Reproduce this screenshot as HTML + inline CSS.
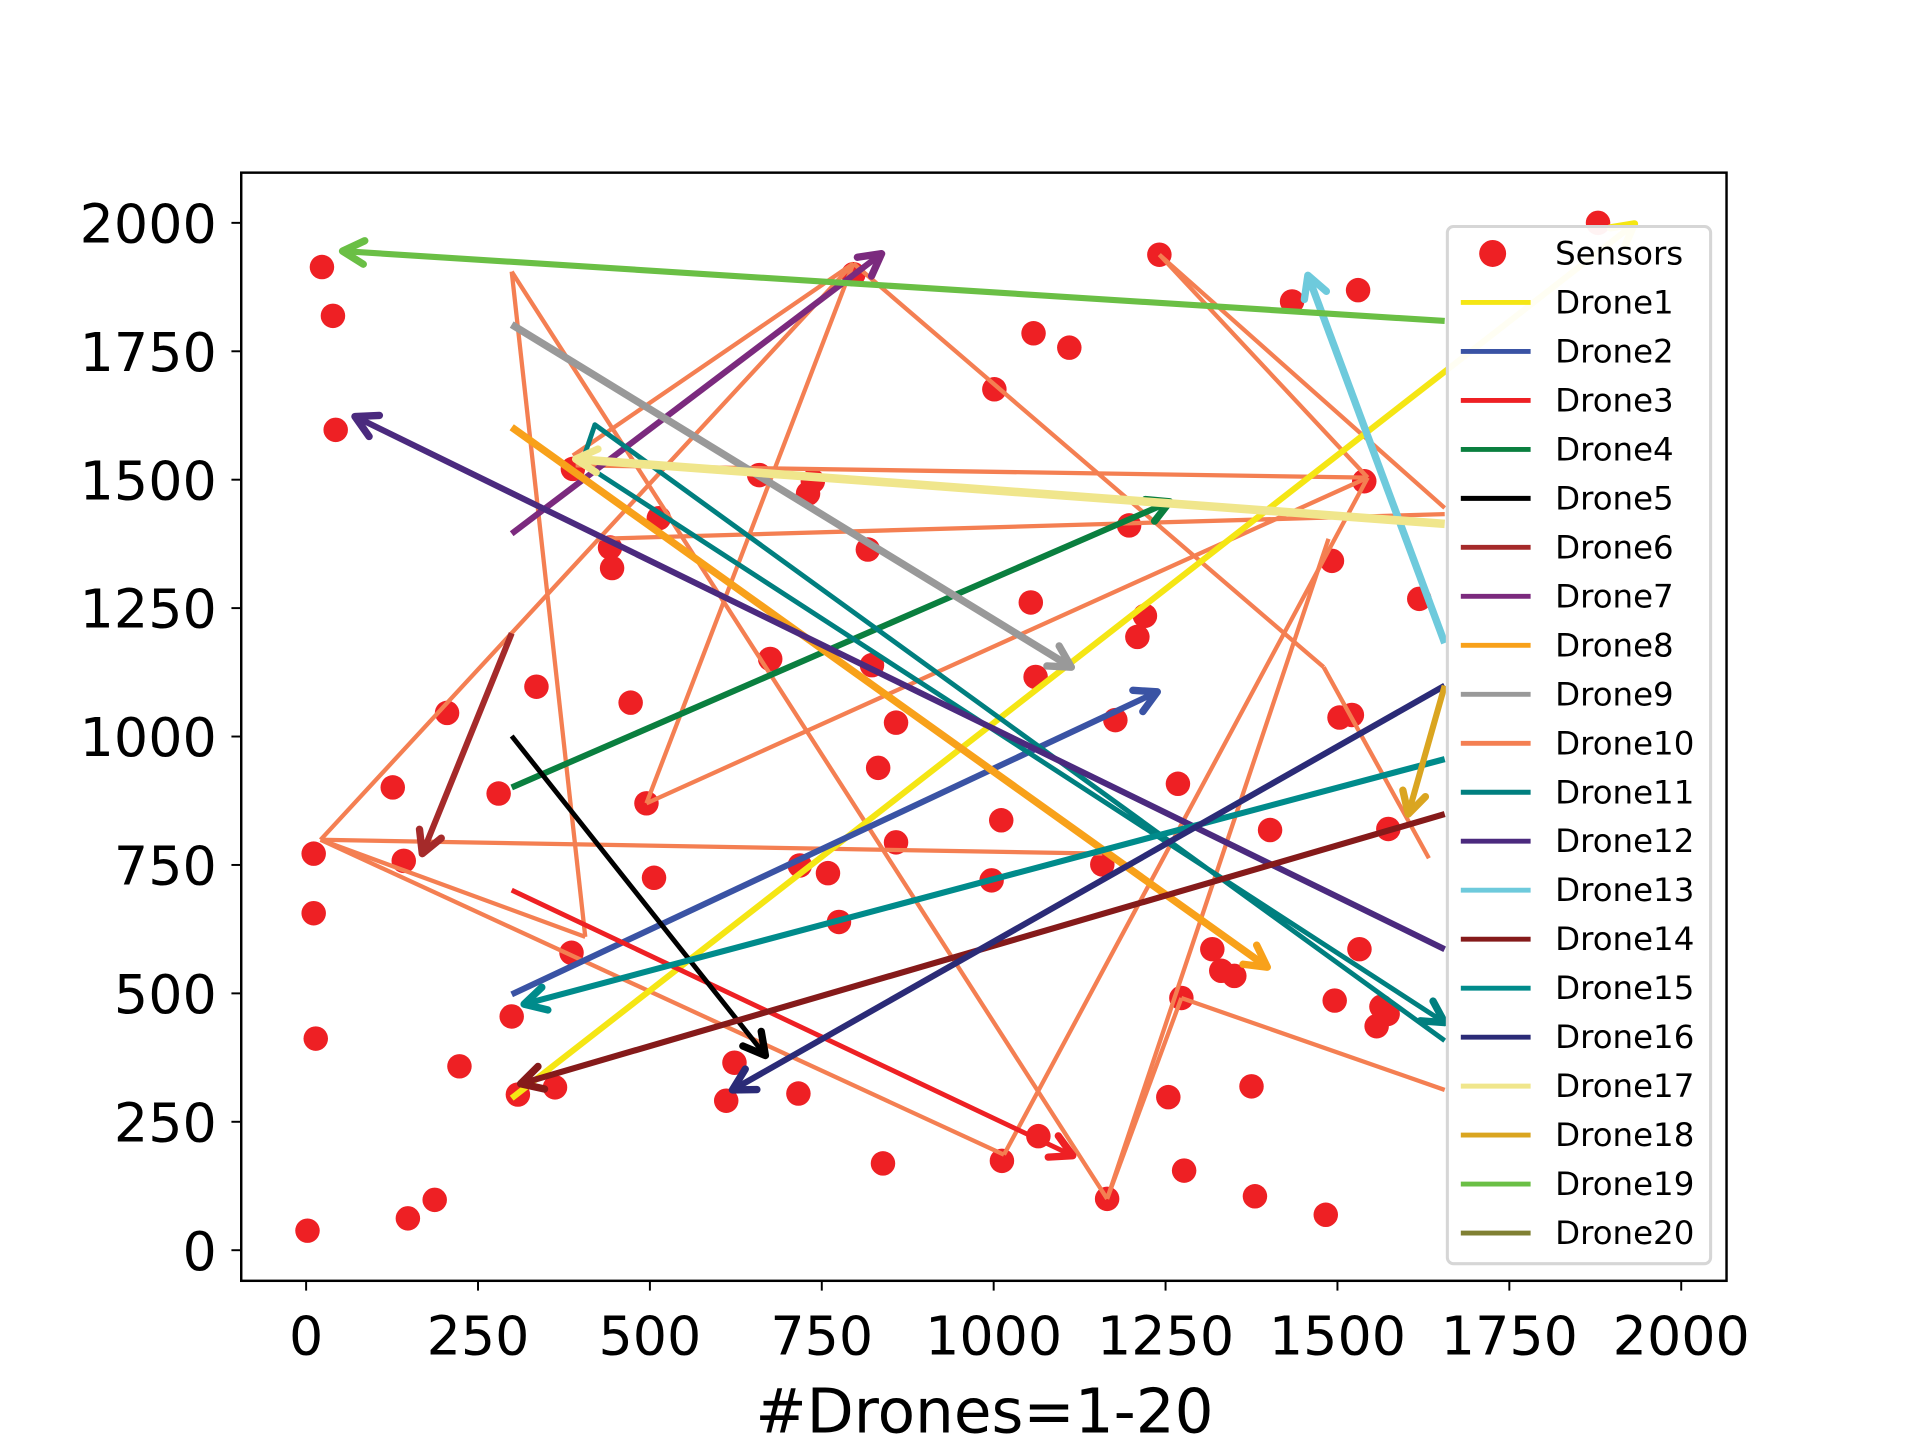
<!DOCTYPE html>
<html><head><meta charset="utf-8"><style>
html,body{margin:0;padding:0;background:#fff;width:1920px;height:1440px;overflow:hidden}
svg{display:block}
text{font-family:"DejaVu Sans","Liberation Sans",sans-serif;fill:#000}
</style></head><body>
<svg id="chart" width="1920" height="1440" viewBox="0 0 1568 1176" xmlns="http://www.w3.org/2000/svg">
<g id="plot"></g>
<g id="axes"></g>
<g id="legend"></g>
</svg>
<script>
const xTicks=[0,250,500,750,1000,1250,1500,1750,2000];
const yTicks=[0,250,500,750,1000,1250,1500,1750,2000];
const sensorX=[1879,23,39,43,1241,1434,1530,1058,1110,1001,796,388,659,737,730,1539,513,1197,442,445,817,1492,1054,1619,1220,1209,675,823,1061,205,335,472,1177,1503,1521,858,495,832,1268,126,280,1011,1402,1574,11,142,858,718,759,506,997,1158,11,775,1318,1532,1331,1350,1496,1564,1573,1557,1273,14,386,299,623,223,308,362,611,716,1254,1375,1065,1012,839,1277,1165,1380,1483,187,148,2];
const sensorY=[2000,1914,1819,1597,1938,1847,1869,1785,1757,1676,1900,1521,1509,1497,1473,1497,1425,1411,1368,1328,1364,1342,1261,1268,1235,1194,1151,1139,1116,1046,1097,1066,1032,1037,1042,1027,870,939,908,901,889,837,818,820,772,758,794,749,734,725,720,751,656,639,586,586,544,534,486,474,460,436,491,412,579,455,365,358,303,317,291,305,298,319,222,174,169,155,100,105,69,98,62,38];
const droneNames=["Drone1","Drone2","Drone3","Drone4","Drone5","Drone6","Drone7","Drone8","Drone9","Drone10","Drone11","Drone12","Drone13","Drone14","Drone15","Drone16","Drone17","Drone18","Drone19","Drone20"];
const droneColors=["#f5e614","#3a53a4","#ee2024","#0a7f3f","#000000","#a52a2a","#7b2a7e","#f8a11a","#999999","#f47f52","#007f7f","#4b2a7e","#6ecadc","#851a1a","#008b8b","#2b2b77","#f0e68c","#daa520","#6abf45","#808033"];
const droneWidths=[5,5,4,5,4,5,5,6,6,3.5,4,5,6,5,5,5,7,5,5,3];
const droneXs=[[299,1932],[299,1238],[299,1115],[299,1256],[299,668],[299,169],[299,837],[299,1398],[299,1113],[],[1656,420,401,1656],[1656,71],[1656,1457],[1656,312],[1656,317],[1656,620],[1656,392],[1656,1603],[1656,53],[]];
const droneYs=[[296,1998],[498,1087],[701,184],[901,1457],[1001,379],[1201,772],[1395,1940],[1602,551],[1802,1135],[],[408,1607,1533,443],[586,1623],[1182,1898],[849,324],[956,479],[1099,312],[1414,1540],[1099,849],[1809,1945],[]];
const d10Segs=[[299,1905,406,610],[299,1905,1165,100],[1165,100,1273,491],[1273,491,1656,312],[1165,100,1487,1385],[1015,186,1544,1504],[1015,186,21,799],[21,799,406,610],[21,799,796,1921],[21,799,1158,772],[796,1921,495,870],[495,870,1544,1504],[796,1921,1480,1135],[1480,1135,1633,763],[1241,1938,1656,1445],[1241,1938,1544,1504],[392,1528,1544,1504],[427,1385,1656,1433],[388,1547,796,1921]];

const NS="http://www.w3.org/2000/svg";
const L=197,R=1410,T=141,B=1046;
const sx=v=>250+v*(1373-250)/2000;
const sy=v=>1021-v*(1021-182)/2000;
function mk(tag,attrs,parent){const e=document.createElementNS(NS,tag);for(const k in attrs)e.setAttribute(k,attrs[k]);parent.appendChild(e);return e;}
const plot=document.getElementById('plot'),axes=document.getElementById('axes'),leg=document.getElementById('legend');

sensorX.forEach((x,i)=>{
  const c=mk('circle',{cx:sx(x),cy:sy(sensorY[i]),r:10,fill:'#ee2024'},plot);
  
  
});
function arrow(x1,y1,x2,y2,color,g){
  const a=Math.atan2(y2-y1,x2-x1),len=20,sp=0.5;
  const p=`M${x2-len*Math.cos(a-sp)},${y2-len*Math.sin(a-sp)} L${x2},${y2} L${x2-len*Math.cos(a+sp)},${y2-len*Math.sin(a+sp)}`;
  const e=mk('path',{d:p,stroke:color,'stroke-width':6,fill:'none','stroke-linecap':'round','stroke-linejoin':'round'},g);
  
  
}
const g10=mk('g',{},plot);


d10Segs.forEach(s=>{
  const e=mk('line',{x1:sx(s[0]),y1:sy(s[1]),x2:sx(s[2]),y2:sy(s[3]),stroke:droneColors[9],'stroke-width':droneWidths[9]},g10);
  
  
});
droneXs.forEach((xs,i)=>{
  if(xs.length<2)return;
  const g=mk('g',{},plot);
  
  
  const pts=xs.map((x,j)=>sx(x)+','+sy(droneYs[i][j])).join(' ');
  mk('polyline',{points:pts,stroke:droneColors[i],'stroke-width':droneWidths[i],fill:'none','stroke-linejoin':'round'},g);
  const n=xs.length;
  arrow(sx(xs[n-2]),sy(droneYs[i][n-2]),sx(xs[n-1]),sy(droneYs[i][n-1]),droneColors[i],g);
});

const fr=mk('rect',{x:L,y:T,width:R-L,height:B-T,fill:'none',stroke:'#000','stroke-width':2},axes);


xTicks.forEach(v=>{
  const x=sx(v);
  mk('line',{x1:x,y1:B,x2:x,y2:B+8,stroke:'#000','stroke-width':1.6},axes);
  const t=mk('text',{x:x,y:B+60,'text-anchor':'middle','font-size':44},axes);
  t.textContent=v;
  
  
});
yTicks.forEach(v=>{
  const y=sy(v);
  mk('line',{x1:L-8,y1:y,x2:L,y2:y,stroke:'#000','stroke-width':1.6},axes);
  const t=mk('text',{x:L-20,y:y+16,'text-anchor':'end','font-size':44},axes);
  t.textContent=v;
  
  
});
const xt=mk('text',{x:804,y:1170,'text-anchor':'middle','font-size':50},axes);
xt.textContent='#Drones=1-20';



const lb=mk('rect',{x:1182,y:185,width:215,height:847,rx:5,fill:'#fff','fill-opacity':0.95,stroke:'#d6d6d6','stroke-width':2.5},leg);


const se=mk('g',{},leg);


mk('circle',{cx:1219,cy:207,r:11,fill:'#ee2024'},se);
const st=mk('text',{x:1270,y:216,'font-size':26.5},se);
st.textContent='Sensors';
droneNames.forEach((n,i)=>{
  const y=247+i*40;
  const g=mk('g',{},leg);
  
  
  mk('line',{x1:1193,y1:y,x2:1250,y2:y,stroke:droneColors[i],'stroke-width':4},g);
  const t=mk('text',{x:1270,y:y+9,'font-size':26.5},g);
  t.textContent=n;
});
</script>
</body></html>
